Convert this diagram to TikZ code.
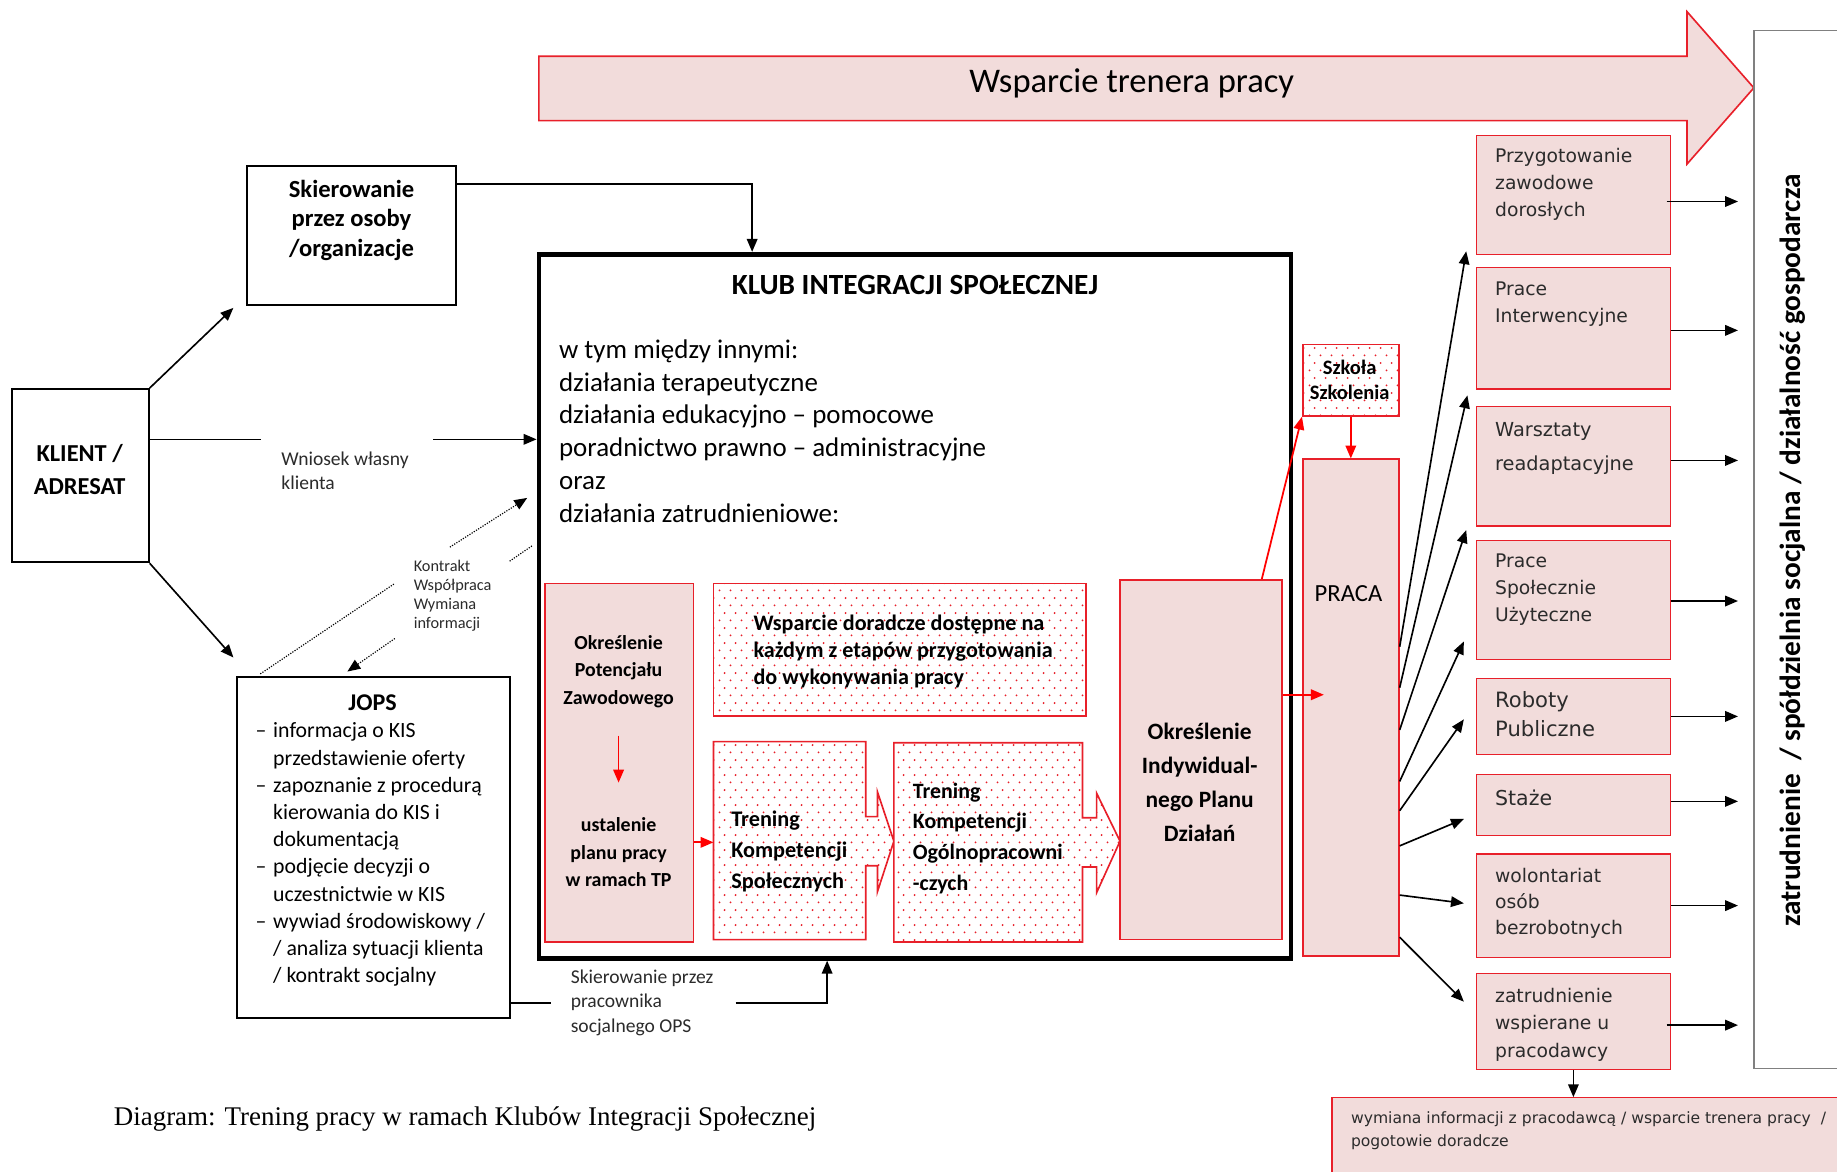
\documentclass[tikz,border=0pt]{standalone}
\usepackage{fontspec}
\setmainfont{Carlito}
\newfontfamily\verd{DejaVu Sans}
\newfontfamily\tnr{Liberation Serif}
\usetikzlibrary{arrows.meta,patterns.meta,fit}
\definecolor{pinkfill}{HTML}{F2DCDB}
\definecolor{redline}{HTML}{E8202A}
\definecolor{arrred}{HTML}{FF0000}
\definecolor{grayline}{HTML}{808080}
\definecolor{txtgray}{HTML}{2B2B2B}
\newcommand{\fsz}[2]{\fontsize{#1pt}{#2pt}\selectfont}
\tikzdeclarepattern{
  name=reddots,
  type=uncolored,
  bounding box={(0pt,0pt) and (9pt,12.6pt)},
  tile size={(9pt,12.6pt)},
  code={\fill (2.25pt,3.15pt) circle (0.9pt); \fill (6.75pt,9.45pt) circle (0.9pt);}
}
\begin{document}
\begin{tikzpicture}[x=1pt,y=-1pt,
  pinkbox/.style={draw=redline, line width=1.4pt, fill=pinkfill, inner sep=0pt, rectangle},
  thinpink/.style={draw=redline, line width=1pt, fill=pinkfill, inner sep=0pt, rectangle},
  dotbox/.style={draw=redline, line width=1.4pt, fill=white, postaction={pattern=reddots, pattern color=redline}, inner sep=0pt, rectangle},
  blkbox/.style={draw=black, line width=1.6pt, fill=white, inner sep=0pt, rectangle},
  conn/.style={draw=black, line width=1.4pt, -{Triangle[length=11pt,width=9pt]}},
  redconn/.style={draw=arrred, line width=1.5pt, -{Triangle[length=11pt,width=9pt]}},
  dotline/.style={draw=black, line width=1pt, dash pattern=on 1pt off 1.2pt},
  txt/.style={inner sep=0pt, align=center},
  ltxt/.style={inner sep=0pt, align=left, anchor=west},
  rtxt/.style={inner sep=0pt, align=left, anchor=west, text=txtgray},
]
\useasboundingbox (0,0) rectangle (1568,1000);
\fill[white] (0,0) rectangle (1568,1000);

% big arrow
\draw[draw=redline, line width=1.4pt, fill=pinkfill]
  (460,48) -- (1440,48) -- (1440,10) -- (1497,75) -- (1440,140) -- (1440,103) -- (460,103) -- cycle;
\node[font=\fsz{29.5}{34}, inner sep=0pt] (wtp) at (966,71) {Wsparcie trenera pracy};

% right tall box
\node[draw=grayline, line width=1.3pt, fill=white, inner sep=0pt, fit={(1497,26) (1620,912)}] (zat) {};
\node[font=\bfseries\fsz{25}{29}, rotate=90, inner sep=0pt] (zatt) at (1530,470)
  {zatrudnienie\ \ / spółdzielnia socjalna / działalność gospodarcza};

% left boxes
\node[blkbox, fit={(211,142) (389,260)}] (skier) {};
\node[txt, font=\bfseries\fsz{21}{25}] (skiert) at (300,188) {Skierowanie\\przez osoby\\/organizacje};

\node[blkbox, fit={(10,332) (127,480)}] (klient) {};
\node[txt, font=\bfseries\fsz{20.8}{28}] (klientt) at (68,401) {KLIENT /\\ADRESAT};

\node[blkbox, fit={(202,578) (435,869)}] (jops) {};
\node[font=\bfseries\fsz{20.5}{22}, inner sep=0pt] (jopst) at (318,600) {JOPS};
\node[ltxt, font=\fsz{18.6}{23.2}] (jopsl) at (218,729.5)
  {\makebox[15pt][l]{–}informacja o KIS\\
   \hspace*{15pt}przedstawienie oferty\\
   \makebox[15pt][l]{–}zapoznanie z procedurą\\
   \hspace*{15pt}kierowania do KIS i\\
   \hspace*{15pt}dokumentacją\\
   \makebox[15pt][l]{–}podjęcie decyzji o\\
   \hspace*{15pt}uczestnictwie w KIS\\
   \makebox[15pt][l]{–}wywiad środowiskowy /\\
   \hspace*{15pt}/ analiza sytuacji klienta\\
   \hspace*{15pt}/ kontrakt socjalny};

% KIS
\node[draw=black, line width=4pt, fill=white, inner sep=0pt, fit={(460,217) (1102,818)}] (kis) {};
\node[font=\bfseries\fsz{25}{29}, inner sep=0pt] (kist) at (781,243) {KLUB INTEGRACJI SPOŁECZNEJ};
\node[ltxt, font=\fsz{23}{28}] (kisb) at (477,368)
  {w tym między innymi:\\działania terapeutyczne\\działania edukacyjno – pomocowe\\poradnictwo prawno – administracyjne\\oraz\\działania zatrudnieniowe:};

\node[pinkbox, fit={(465,498) (592,804)}] (opz) {};
\node[txt, font=\bfseries\fsz{17}{23.5}] (opzt1) at (528,573) {Określenie\\Potencjału\\Zawodowego};
\node[txt, font=\bfseries\fsz{17}{23.5}] (opzt2) at (528,727.5) {ustalenie\\planu pracy\\w ramach TP};
\coordinate (opza) at (528,628);
\coordinate (opzb) at (528,668);
\draw[redconn] (opza) -- (opzb);

\node[dotbox, fit={(609,498) (927,611)}] (wd) {};
\node[ltxt, font=\bfseries\fsz{18.9}{23}] (wdt) at (643,556)
  {Wsparcie doradcze dostępne na\\każdym z etapów przygotowania\\do wykonywania pracy};

\draw[draw=redline, line width=1.4pt, fill=white, postaction={pattern=reddots, pattern color=redline}]
  (609,633) -- (739,633) -- (739,697) -- (749,697) -- (749,676) -- (763,718) -- (749,761)
  -- (749,739) -- (739,739) -- (739,802) -- (609,802) -- cycle;
\node[ltxt, font=\bfseries\fsz{19}{26.5}] (tkst) at (624,726.5) {Trening\\Kompetencji\\Społecznych};

\draw[draw=redline, line width=1.4pt, fill=white, postaction={pattern=reddots, pattern color=redline}]
  (763,634) -- (924,634) -- (924,698) -- (936,698) -- (936,677) -- (956,718) -- (936,762)
  -- (936,740) -- (924,740) -- (924,804) -- (763,804) -- cycle;
\node[ltxt, font=\bfseries\fsz{18.7}{26.3}] (tkot) at (779,715.5) {Trening\\Kompetencji\\Ogólnopracowni\\-czych};

\draw[redconn] (opz.east |- 0,719) -- (609,719);

\node[pinkbox, fit={(956,495) (1094,802)}] (oipd) {};
\node[txt, font=\bfseries\fsz{20}{29}] (oipdt) at (1024,667.5) {Określenie\\Indywidual-\\nego Planu\\Działań};

% Szkoła, PRACA
\node[dotbox, fit={(1112,294) (1194,355)}] (szk) {};
\node[txt, font=\bfseries\fsz{17.5}{21}] (szkt) at (1152,324) {Szkoła\\Szkolenia};
\node[pinkbox, fit={(1112,392) (1194,816)}] (praca) {};
\node[font=\fsz{21}{24}, inner sep=0pt] (pracat) at (1151,507) {PRACA};

\draw[redconn] (oipd.north -| 1077,0) -- (szk.south west);
\draw[redconn] (szk.south) -- (praca.north);
\coordinate (pracain) at (1130,593);
\draw[redconn] (oipd.east |- pracain) -- (pracain);

% right boxes
\node[thinpink, fit={(1260,116) (1426,217)}] (r1) {};
\node[rtxt, font=\verd\fsz{16}{23}] (r1t) at (1276,157) {Przygotowanie\\zawodowe\\dorosłych};
\node[thinpink, fit={(1260,228) (1426,332)}] (r2) {};
\node[rtxt, font=\verd\fsz{16}{23}] (r2t) at (1276,259.5) {Prace\\Interwencyjne};
\node[thinpink, fit={(1260,347) (1426,449)}] (r3) {};
\node[rtxt, font=\verd\fsz{16.5}{29}] (r3t) at (1276,382.5) {Warsztaty\\readaptacyjne};
\node[thinpink, fit={(1260,461) (1426,563)}] (r4) {};
\node[rtxt, font=\verd\fsz{16}{23}] (r4t) at (1276,503) {Prace\\Społecznie\\Użyteczne};
\node[thinpink, fit={(1260,579) (1426,644)}] (r5) {};
\node[rtxt, font=\verd\fsz{18}{25}] (r5t) at (1276,609.5) {Roboty\\Publiczne};
\node[thinpink, fit={(1260,661) (1426,713)}] (r6) {};
\node[rtxt, font=\verd\fsz{17.5}{22}] (r6t) at (1276,681) {Staże};
\node[thinpink, fit={(1260,729) (1426,817)}] (r7) {};
\node[rtxt, font=\verd\fsz{16}{22}] (r7t) at (1276,771) {wolontariat\\osób\\bezrobotnych};
\node[thinpink, fit={(1260,831) (1426,913)}] (r8) {};
\node[rtxt, font=\verd\fsz{16}{23.5}] (r8t) at (1276,874.5) {zatrudnienie\\wspierane u\\pracodawcy};

\node[thinpink, fit={(1137,937) (1620,1030)}] (wym) {};
\node[rtxt, font=\verd\fsz{13.3}{20}] (wymt) at (1153,965)
  {wymiana informacji z pracodawcą / wsparcie trenera pracy\ \ /\\pogotowie doradcze};

% arrows right boxes -> tall box
\draw[conn] ([xshift=-4pt,yshift=-5.5pt]r1.east) -- ++(61,0);
\draw[conn] ([yshift=-2pt]r2.east) -- ++(57,0);
\draw[conn] ([yshift=5pt]r3.east) -- ++(57,0);
\draw[conn] ([yshift=-1pt]r4.east) -- ++(57,0);
\draw[conn] (r5.east) -- ++(57,0);
\draw[conn] ([yshift=3pt]r6.east) -- ++(57,0);
\draw[conn] (r7.east) -- ++(57,0);
\draw[conn] ([xshift=-4pt,yshift=-3pt]r8.east) -- ++(61,0);
\draw[conn] (r8.south) -- (r8.south |- wym.north);

% arrows PRACA -> right boxes
\draw[conn] ([yshift=52pt]praca.east) -- ([xshift=-8pt,yshift=3pt]r1.south west);
\draw[conn] ([yshift=17pt]praca.east) -- ([xshift=-7pt,yshift=-5pt]r2.south west);
\draw[conn] ([yshift=-19pt]praca.east) -- ([xshift=-8pt,yshift=-3pt]r3.south west);
\draw[conn] ([yshift=-63pt]praca.east) -- ([xshift=-10pt,yshift=16pt]r4.south west);
\draw[conn] ([yshift=-88pt]praca.east) -- ([xshift=-10pt,yshift=-2.5pt]r5.west);
\draw[conn] ([yshift=-118pt]praca.east) -- ([xshift=-10pt,yshift=-12pt]r6.west);
\draw[conn] ([yshift=-160pt]praca.east) -- ([xshift=-10pt,yshift=2pt]r7.west);
\draw[conn] ([yshift=-196pt]praca.east) -- ([xshift=-10pt,yshift=17pt]r8.west);

% left connectors
\draw[conn] (klient.north east) -- ([xshift=-11pt,yshift=-2pt]skier.south west);
\draw[conn] (klient.south east) -- ([xshift=-2pt,yshift=16pt]jops.north west);
\coordinate (g1) at (223,375);
\coordinate (g2) at (370,375);
\draw[line width=1.4pt] (klient.east |- g1) -- (g1);
\draw[conn] (g2) -- (kis.west |- g2);
\node[rtxt, font=\fsz{16.7}{20}] (wn) at (240,402) {Wniosek własny\\klienta};

\draw[conn] ([yshift=44pt]skier.east) -| ([xshift=-139pt]kis.north);

\coordinate (d1a) at (337,498);
\coordinate (d1b) at (384,467);
\coordinate (d1c) at (450,425);
\draw[dotline] ([xshift=21pt,yshift=2pt]jops.north west) -- (d1a);
\draw[dotline, -{Triangle[length=11pt,width=9pt]}] (d1b) -- (d1c);
\coordinate (d2a) at (454,466);
\coordinate (d2b) at (435,479);
\coordinate (d2c) at (337,545);
\draw[dotline] (d2a) -- (d2b);
\draw[dotline, -{Triangle[length=11pt,width=9pt]}] (d2c) -- ([xshift=-22pt,yshift=4pt]jops.north);
\node[rtxt, font=\fsz{13.9}{16.4}] (kon) at (353,508.5) {Kontrakt\\Współpraca\\Wymiana\\informacji};

\coordinate (g3) at (470,856);
\coordinate (g4) at (628,856);
\draw[line width=1.4pt] (jops.east |- g3) -- (g3);
\draw[conn] (g4) -| ([xshift=-75pt]kis.south);
\node[rtxt, font=\fsz{16.7}{21}] (skp) at (487,856) {Skierowanie przez\\pracownika\\socjalnego OPS};

\node[inner sep=0pt, anchor=west, font=\tnr\fsz{23}{27}] (cap) at (97,955)
  {Diagram: Trening pracy w ramach Klubów Integracji Społecznej};
\end{tikzpicture}
\end{document}
